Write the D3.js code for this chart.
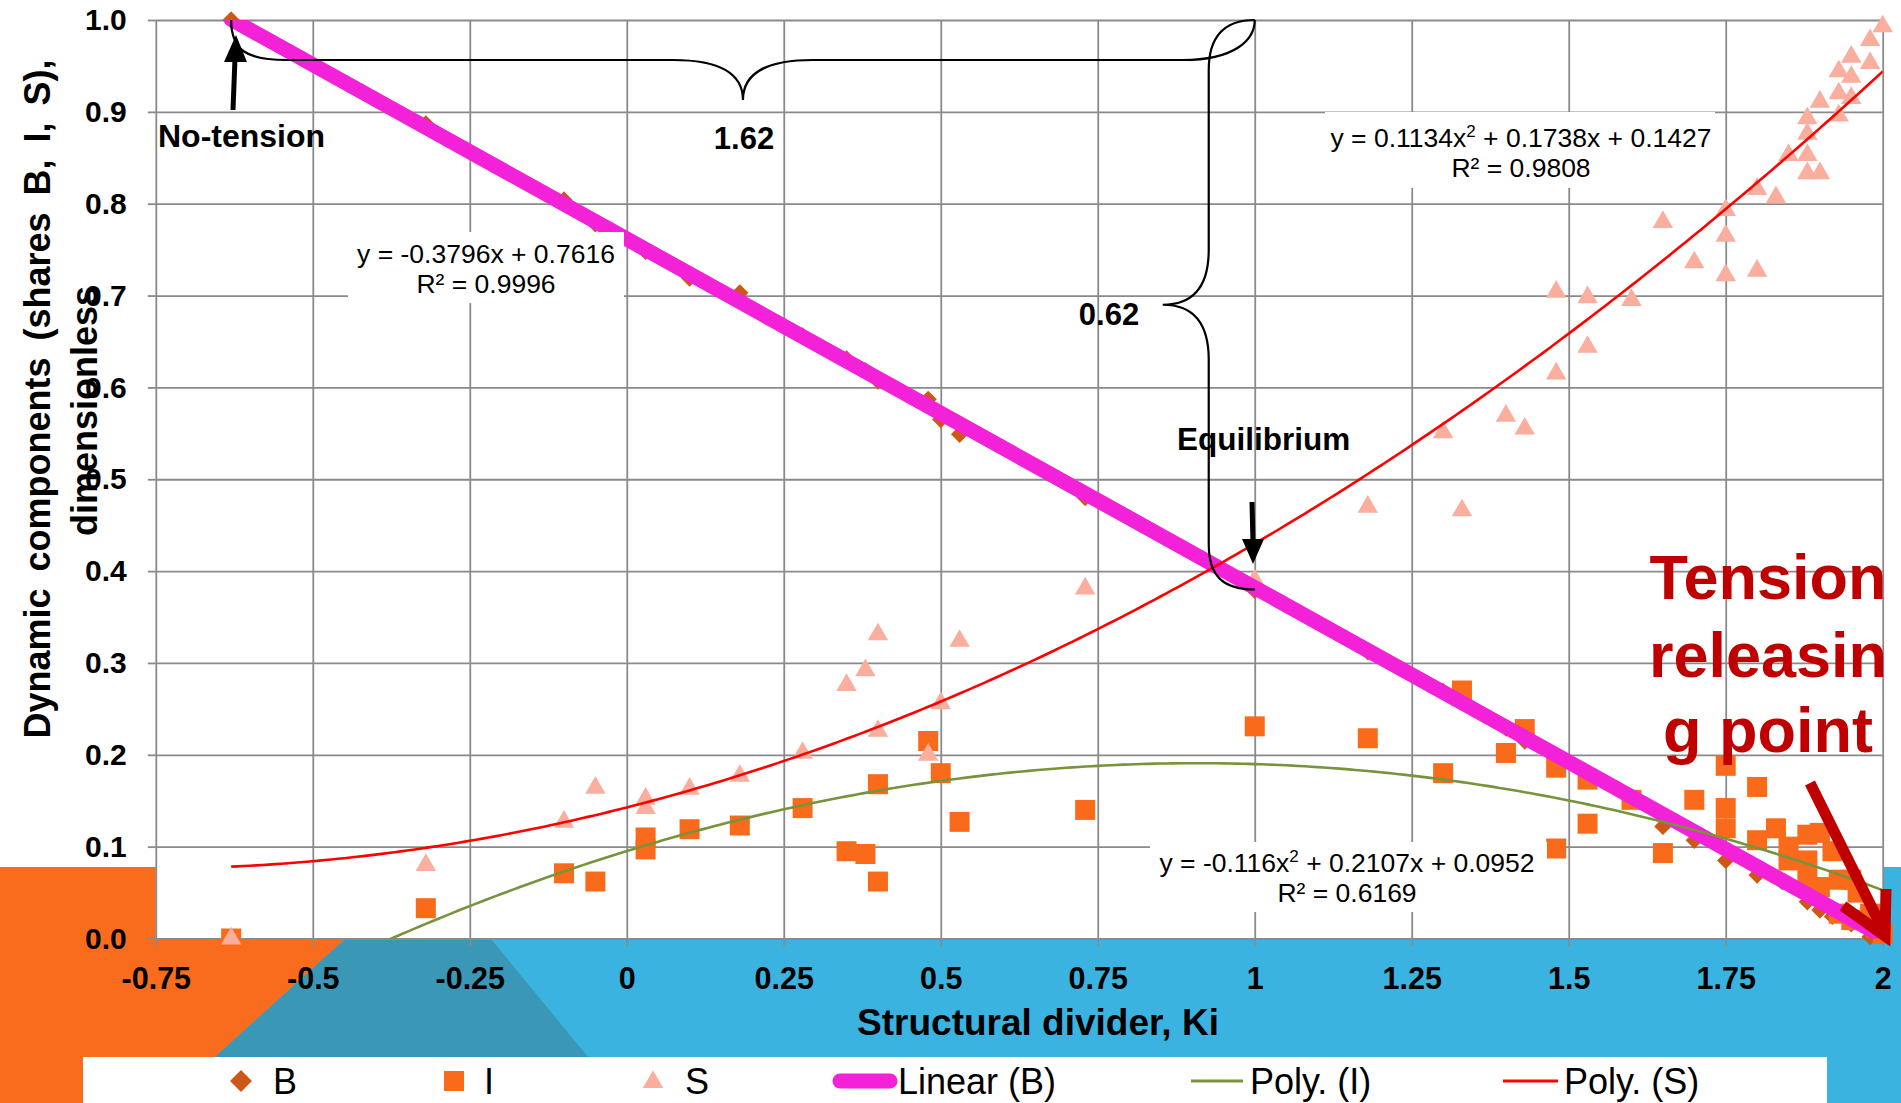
<!DOCTYPE html>
<html>
<head>
<meta charset="utf-8">
<script src="https://cdn.jsdelivr.net/npm/d3@7"></script>
<style>
  html, body { margin: 0; padding: 0; background: #fff; }
  svg { display: block; font-family: "Liberation Sans", Arial, sans-serif; }
</style>
</head>
<body>
<script>
// ticks
var kTicks = [-0.75, -0.5, -0.25, 0, 0.25, 0.5, 0.75, 1, 1.25, 1.5, 1.75, 2];
var kTickLabels = ["-0.75", "-0.5", "-0.25", "0", "0.25", "0.5", "0.75", "1", "1.25", "1.5", "1.75", "2"];
var shareTicks = [0, 0.1, 0.2, 0.3, 0.4, 0.5, 0.6, 0.7, 0.8, 0.9, 1.0];

// B (diamonds)
var bPoints = [
  [-0.63, 1.0], [-0.32, 0.887], [-0.10, 0.804], [-0.05, 0.778], [0.03, 0.748], [0.10, 0.719],
  [0.18, 0.703], [0.28, 0.656], [0.35, 0.631], [0.38, 0.618], [0.40, 0.607], [0.48, 0.587],
  [0.50, 0.565], [0.53, 0.549], [0.73, 0.48], [1.00, 0.379], [1.18, 0.312], [1.30, 0.269],
  [1.33, 0.264], [1.40, 0.229], [1.43, 0.215], [1.48, 0.187], [1.53, 0.176], [1.60, 0.151],
  [1.65, 0.122], [1.70, 0.107], [1.75, 0.085], [1.80, 0.069], [1.84, 0.062], [1.88, 0.04],
  [1.90, 0.031], [1.92, 0.024], [1.95, 0.016], [1.98, 0.002]
];

// I (squares)
var iPoints = [
  [-0.63, 0.0], [-0.32, 0.033], [-0.10, 0.071], [-0.05, 0.062], [0.03, 0.11], [0.03, 0.097],
  [0.10, 0.119], [0.18, 0.123], [0.28, 0.142], [0.35, 0.095], [0.38, 0.092], [0.40, 0.168],
  [0.40, 0.062], [0.48, 0.215], [0.50, 0.18], [0.53, 0.127], [0.73, 0.14], [1.00, 0.231],
  [1.18, 0.218], [1.30, 0.18], [1.33, 0.27], [1.40, 0.202], [1.43, 0.228], [1.48, 0.186],
  [1.48, 0.098], [1.53, 0.173], [1.53, 0.125], [1.60, 0.151], [1.65, 0.093], [1.70, 0.151],
  [1.75, 0.188], [1.75, 0.142], [1.75, 0.12], [1.80, 0.165], [1.80, 0.107], [1.83, 0.12],
  [1.85, 0.085], [1.85, 0.10], [1.88, 0.113], [1.88, 0.085], [1.88, 0.064], [1.90, 0.115],
  [1.90, 0.056], [1.92, 0.095], [1.93, 0.064], [1.93, 0.027], [1.95, 0.064], [1.95, 0.02],
  [1.96, 0.05], [1.98, 0.027], [1.99, 0.012], [2.00, 0.005]
];

// S (triangles)
var sPoints = [
  [-0.63, 0.0], [-0.32, 0.08], [-0.10, 0.127], [-0.05, 0.164], [0.03, 0.152], [0.03, 0.142],
  [0.10, 0.163], [0.18, 0.177], [0.28, 0.202], [0.35, 0.276], [0.38, 0.292], [0.40, 0.331],
  [0.40, 0.226], [0.48, 0.20], [0.50, 0.256], [0.53, 0.324], [0.73, 0.381], [1.00, 0.39],
  [1.18, 0.47], [1.30, 0.551], [1.33, 0.466], [1.40, 0.569], [1.43, 0.555], [1.48, 0.704],
  [1.48, 0.615], [1.53, 0.698], [1.53, 0.644], [1.60, 0.695], [1.65, 0.78], [1.70, 0.736],
  [1.75, 0.793], [1.75, 0.765], [1.75, 0.722], [1.80, 0.816], [1.80, 0.727], [1.83, 0.807],
  [1.85, 0.853], [1.88, 0.893], [1.88, 0.876], [1.88, 0.853], [1.88, 0.833], [1.90, 0.911],
  [1.90, 0.833], [1.93, 0.944], [1.93, 0.92], [1.93, 0.896], [1.95, 0.96], [1.95, 0.938],
  [1.95, 0.915], [1.98, 0.978], [1.98, 0.953], [2.00, 0.993]
];

// trendlines as printed on the chart
var linB = [-0.3796, 0.7616];          // a*x + b
var polyI = [-0.116, 0.2107, 0.0952];  // a*x^2 + b*x + c
var polyS = [0.1134, 0.1738, 0.1427];
var trendRange = [-0.63, 2];

var W = 1901, H = 1103;
var x = d3.scaleLinear().domain([-0.75, 2]).range([155.8, 1882.7]);
var y = d3.scaleLinear().domain([0, 1]).range([938.5, 20]);

var svg = d3.select("body").append("svg").attr("width", W).attr("height", H);

// slide background pieces
svg.append("rect").attr("x", 155).attr("y", 939).attr("width", W - 155).attr("height", H - 939).attr("fill", "#3BB3E0");
svg.append("rect").attr("x", 1884).attr("y", 867).attr("width", W - 1884).attr("height", H - 867).attr("fill", "#3BB3E0");
svg.append("polygon")
    .attr("points", "0,867 155.8,867 155.8,939 345,939 215,1057 83,1057 83,1103 0,1103")
    .attr("fill", "#F96C1E");
svg.append("polygon")
    .attr("points", "345,939 491,939 588,1057 215,1057")
    .attr("fill", "#3A97B5");

// grid
var gridColor = "#8a8a8a";
var plotH = y(0) - y(1), plotW = x(2) - x(-0.75);

svg.append("g")
    .attr("transform", "translate(0," + y(0) + ")")
    .call(d3.axisBottom(x).tickValues(kTicks).tickSize(-plotH).tickSizeOuter(0).tickFormat(""))
    .call(function(g) { g.select(".domain").remove(); })
    .selectAll("line").attr("stroke", gridColor).attr("stroke-width", 1.8);

svg.append("g")
    .attr("transform", "translate(" + x(-0.75) + ",0)")
    .call(d3.axisLeft(y).tickValues(shareTicks).tickSize(-plotW).tickSizeOuter(0).tickFormat(""))
    .call(function(g) { g.select(".domain").remove(); })
    .selectAll("line").attr("stroke", gridColor).attr("stroke-width", 1.8);

// axes with outward ticks + labels
var xAxis = svg.append("g")
    .attr("transform", "translate(0," + y(0) + ")")
    .call(d3.axisBottom(x).tickValues(kTicks).tickSize(8).tickPadding(21)
      .tickFormat(function(d, i) { return kTickLabels[i]; }));
xAxis.select(".domain").remove();
xAxis.selectAll("line").attr("stroke", gridColor).attr("stroke-width", 1.8);
xAxis.selectAll("text").attr("font-size", 30.5).attr("font-weight", "bold").attr("fill", "#000")
    .attr("font-family", "Liberation Sans, Arial, sans-serif");

var yAxis = svg.append("g")
    .attr("transform", "translate(" + x(-0.75) + ",0)")
    .call(d3.axisLeft(y).tickValues(shareTicks).tickSize(8).tickPadding(21).tickFormat(d3.format(".1f")));
yAxis.select(".domain").remove();
yAxis.selectAll("line").attr("stroke", gridColor).attr("stroke-width", 1.8);
yAxis.selectAll("text").attr("font-size", 30).attr("font-weight", "bold").attr("fill", "#000")
    .attr("font-family", "Liberation Sans, Arial, sans-serif");

// axis titles
svg.append("text").attr("x", 1038).attr("y", 1035).attr("text-anchor", "middle")
    .attr("font-size", 37).attr("font-weight", "bold").text("Structural divider, Ki");
svg.append("text").attr("transform", "translate(50,399) rotate(-90)").attr("text-anchor", "middle")
    .attr("font-size", 36).attr("font-weight", "bold").attr("word-spacing", 7).text("Dynamic components (shares B, I, S),");
svg.append("text").attr("transform", "translate(97,411) rotate(-90)").attr("text-anchor", "middle")
    .attr("font-size", 36).attr("font-weight", "bold").text("dimensionless");

// markers
var colB = "#CD5716", colI = "#F96A1B", colS = "#F9AE9E";
var diamond = d3.symbol().type(d3.symbolSquare).size(150);
var square = d3.symbol().type(d3.symbolSquare).size(400);
var tri = d3.symbol().type(d3.symbolTriangle).size(180);

svg.append("g").selectAll("path").data(bPoints).enter().append("path")
    .attr("d", diamond)
    .attr("transform", function(d) { return "translate(" + x(d[0]) + "," + y(d[1]) + ") rotate(45)"; })
    .attr("fill", colB);
svg.append("g").selectAll("path").data(iPoints).enter().append("path")
    .attr("d", square)
    .attr("transform", function(d) { return "translate(" + x(d[0]) + "," + y(d[1]) + ")"; })
    .attr("fill", colI);
svg.append("g").selectAll("path").data(sPoints).enter().append("path")
    .attr("d", tri)
    .attr("transform", function(d) { return "translate(" + x(d[0]) + "," + y(d[1]) + ")"; })
    .attr("fill", colS);

// trendlines (clipped to plot area)
svg.append("clipPath").attr("id", "plot").append("rect")
    .attr("x", x(-0.75)).attr("y", y(1)).attr("width", plotW).attr("height", plotH);
var tg = svg.append("g").attr("clip-path", "url(#plot)");
var xs = d3.range(trendRange[0], trendRange[1] + 1e-9, 0.01);
var line = d3.line().x(function(d) { return x(d[0]); }).y(function(d) { return y(d[1]); });

tg.append("path")
    .attr("d", line([[trendRange[0], linB[0] * trendRange[0] + linB[1]], [trendRange[1], linB[0] * trendRange[1] + linB[1]]]))
    .attr("stroke", "#F321D7").attr("stroke-width", 15).attr("stroke-linecap", "round").attr("fill", "none");
tg.append("path")
    .attr("d", line(xs.map(function(v) { return [v, polyI[0] * v * v + polyI[1] * v + polyI[2]]; })))
    .attr("stroke", "#77933C").attr("stroke-width", 2.6).attr("fill", "none");
tg.append("path")
    .attr("d", line(xs.map(function(v) { return [v, polyS[0] * v * v + polyS[1] * v + polyS[2]]; })))
    .attr("stroke", "#FF0000").attr("stroke-width", 2.6).attr("fill", "none");

// trendline labels
function eqLabel(box, cx, b1, parts, r2) {
  svg.append("rect").attr("x", box[0]).attr("y", box[1]).attr("width", box[2] - box[0]).attr("height", box[3] - box[1])
      .attr("fill", "#fff");
  var t = svg.append("text").attr("x", cx).attr("y", b1).attr("text-anchor", "middle").attr("font-size", 26.5);
  parts.forEach(function(p) {
    if (p.sup) t.append("tspan").attr("font-size", 17).attr("dy", -10).text(p.sup);
    else t.append("tspan").attr("dy", p.back ? 10 : 0).text(p.t);
  });
  svg.append("text").attr("x", cx).attr("y", b1 + 30).attr("text-anchor", "middle").attr("font-size", 26.5).text(r2);
}
eqLabel([348, 232, 624, 303], 486, 263, [{t: "y = -0.3796x + 0.7616"}], "R\u00b2 = 0.9996");
eqLabel([1325, 112, 1715, 188], 1521, 147,
  [{t: "y = 0.1134x"}, {sup: "2"}, {t: " + 0.1738x + 0.1427", back: true}], "R\u00b2 = 0.9808");
eqLabel([1150, 842, 1547, 912], 1347, 872,
  [{t: "y = -0.116x"}, {sup: "2"}, {t: " + 0.2107x + 0.0952", back: true}], "R\u00b2 = 0.6169");

// braces
var bx0 = x(-0.63), bx1 = x(1.0), by0 = y(1.0), bm = (bx0 + bx1) / 2;
svg.append("path")
    .attr("d", "M" + bx0 + "," + by0 +
      " C" + bx0 + "," + (by0 + 30) + " " + (bx0 + 15) + "," + (by0 + 40) + " " + (bx0 + 55) + "," + (by0 + 40) +
      " L" + (bm - 70) + "," + (by0 + 40) +
      " C" + (bm - 25) + "," + (by0 + 40) + " " + bm + "," + (by0 + 52) + " " + bm + "," + (by0 + 80) +
      " C" + bm + "," + (by0 + 52) + " " + (bm + 25) + "," + (by0 + 40) + " " + (bm + 70) + "," + (by0 + 40) +
      " L" + (bx1 - 72) + "," + (by0 + 40) +
      " C" + (bx1 - 20) + "," + (by0 + 40) + " " + bx1 + "," + (by0 + 20) + " " + bx1 + "," + by0)
    .attr("fill", "none").attr("stroke", "#000").attr("stroke-width", 2.2);

var vy0 = y(1.0), vy1 = y(0.38), vm = (vy0 + vy1) / 2, vx = x(1.0);
svg.append("path")
    .attr("d", "M" + vx + "," + vy0 +
      " C" + (vx - 32) + "," + vy0 + " " + (vx - 46) + "," + (vy0 + 18) + " " + (vx - 46) + "," + (vy0 + 50) +
      " L" + (vx - 46) + "," + (vm - 55) +
      " C" + (vx - 46) + "," + (vm - 18) + " " + (vx - 62) + "," + vm + " " + (vx - 92) + "," + vm +
      " C" + (vx - 62) + "," + vm + " " + (vx - 46) + "," + (vm + 18) + " " + (vx - 46) + "," + (vm + 55) +
      " L" + (vx - 46) + "," + (vy1 - 45) +
      " C" + (vx - 46) + "," + (vy1 - 12) + " " + (vx - 30) + "," + vy1 + " " + vx + "," + vy1)
    .attr("fill", "none").attr("stroke", "#000").attr("stroke-width", 2.2);

// black arrows
svg.append("line").attr("x1", 233).attr("y1", 110).attr("x2", 235).attr("y2", 58)
    .attr("stroke", "#000").attr("stroke-width", 5);
svg.append("polygon").attr("points", "236,35 224,62 247,62").attr("fill", "#000");
svg.append("line").attr("x1", 1252).attr("y1", 502).attr("x2", 1253).attr("y2", 543)
    .attr("stroke", "#000").attr("stroke-width", 5);
svg.append("polygon").attr("points", "1253,564 1242,539 1264,539").attr("fill", "#000");

// annotation texts
function note(tx, ty, s, anchor, fs) {
  svg.append("text").attr("x", tx).attr("y", ty).attr("text-anchor", anchor || "start")
      .attr("font-size", fs || 31).attr("font-weight", "bold").text(s);
}
note(158, 147, "No-tension", "start", 32);
note(744, 149, "1.62", "middle");
note(1109, 325, "0.62", "middle");
note(1177, 450, "Equilibrium", "start", 31.5);

var tens = ["Tension", "releasin", "g point"], tensY = [599, 677, 752];
tens.forEach(function(s, i) {
  svg.append("text").attr("x", 1768).attr("y", tensY[i]).attr("text-anchor", "middle")
      .attr("font-size", 63).attr("font-weight", "bold").attr("fill", "#C00000").text(s);
});

// dark red arrow
svg.append("line").attr("x1", 1810).attr("y1", 783).attr("x2", 1884).attr("y2", 932)
    .attr("stroke", "#C00000").attr("stroke-width", 11);
svg.append("polyline").attr("points", "1843,906 1885,936 1886,889")
    .attr("fill", "none").attr("stroke", "#C00000").attr("stroke-width", 11).attr("stroke-linejoin", "miter");

// legend
svg.append("rect").attr("x", 83).attr("y", 1057).attr("width", 1827 - 83).attr("height", H - 1057).attr("fill", "#fff");
var ly = 1081, lb = 1094;
var lg = svg.append("g").attr("font-size", 36);
lg.append("path").attr("d", d3.symbol().type(d3.symbolSquare).size(240)).attr("transform", "translate(241," + ly + ") rotate(45)").attr("fill", colB);
lg.append("text").attr("x", 273).attr("y", lb).text("B");
lg.append("path").attr("d", square).attr("transform", "translate(454," + ly + ")").attr("fill", colI);
lg.append("text").attr("x", 484).attr("y", lb).text("I");
lg.append("path").attr("d", tri).attr("transform", "translate(653," + (ly + 1) + ")").attr("fill", colS);
lg.append("text").attr("x", 685).attr("y", lb).text("S");
lg.append("line").attr("x1", 840).attr("x2", 890).attr("y1", ly).attr("y2", ly)
    .attr("stroke", "#F321D7").attr("stroke-width", 15).attr("stroke-linecap", "round");
lg.append("text").attr("x", 898).attr("y", lb).text("Linear (B)");
lg.append("line").attr("x1", 1191).attr("x2", 1243).attr("y1", ly).attr("y2", ly)
    .attr("stroke", "#77933C").attr("stroke-width", 3);
lg.append("text").attr("x", 1250).attr("y", lb).text("Poly. (I)");
lg.append("line").attr("x1", 1503).attr("x2", 1558).attr("y1", ly).attr("y2", ly)
    .attr("stroke", "#FF0000").attr("stroke-width", 3);
lg.append("text").attr("x", 1564).attr("y", lb).text("Poly. (S)");
</script>
</body>
</html>
